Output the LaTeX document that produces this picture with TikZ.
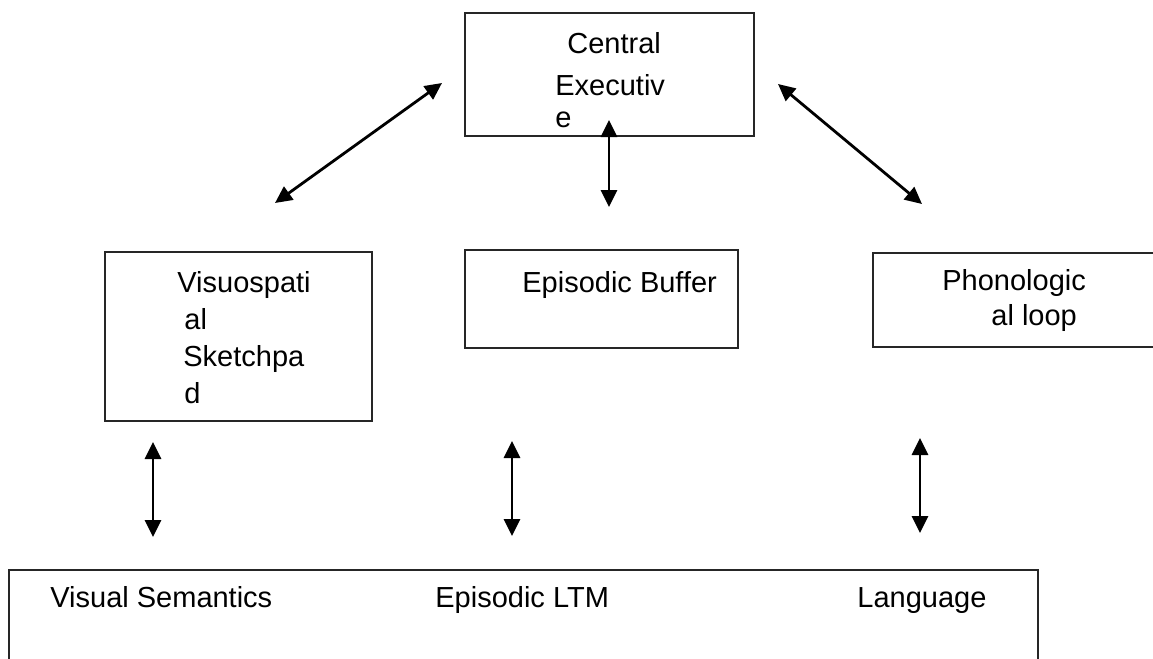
\documentclass[tikz,border=0pt]{standalone}
\usepackage{fontspec}
\setmainfont{Liberation Sans}
\usetikzlibrary{fit,arrows.meta}

\begin{document}
\begin{tikzpicture}[
  x=0.5pt, y=-0.5pt,
  box/.style={draw=black!85, line width=1pt, inner sep=0pt},
  txt/.style={anchor=base west, align=left, inner sep=0pt, font=\fontsize{14.5}{18.5}\selectfont},
  link/.style={{Triangle[length=8.5pt,width=8pt]}-{Triangle[length=8.5pt,width=8pt]}, line width=1.4pt},
]
\useasboundingbox (0,0) rectangle (1153,659);

% component boxes
\node[box, fit={(465,13) (754,136)}] (ce) {};
\node[box, fit={(105,252) (372,421)}] (vs) {};
\node[box, fit={(465,250) (738,348)}] (eb) {};
\node[box, fit={(873,253) (1170,347)}] (pl) {};
\node[box, fit={(9,570) (1038,690)}] (ltm) {};

% box texts (base = last line)
\node[txt, font=\fontsize{14.5}{21}\selectfont] (ce-txt) at (555,127) {\hspace{6pt}Central\\Executiv\\[-5pt]e};
\node[txt] (vs-txt) at (177,403) {Visuospati\\\hspace{3.5pt}al\\\hspace{3pt}Sketchpa\\\hspace{3.5pt}d};
\node[txt] (eb-txt) at (522,292) {Episodic Buffer};
\node[txt, font=\fontsize{14.5}{17.5}\selectfont] (pl-txt) at (942,325) {Phonologic\\\hspace{24.5pt}al loop};
\node[txt] (ltm-vis) at (50,607) {Visual Semantics};
\node[txt] (ltm-epi) at (435,607) {Episodic LTM};
\node[txt] (ltm-lang) at (857,607) {Language};

% arrow ends
\coordinate (ce-l) at (442,83);
\coordinate (vs-t) at (275,203);
\coordinate (ce-b) at (609,120);
\coordinate (eb-t) at (609,207);
\coordinate (ce-r) at (778,84);
\coordinate (pl-t) at (922,204);
\coordinate (vs-b) at (153,442);
\coordinate (ltm-l) at (153,537);
\coordinate (eb-b) at (512,441);
\coordinate (ltm-m) at (512,536);
\coordinate (pl-b) at (920,438);
\coordinate (ltm-r) at (920,533);

\draw[link] (vs-t) -- (ce-l);
\draw[link] (ce-b) -- (eb-t);
\draw[link] (ce-r) -- (pl-t);
\draw[link] (vs-b) -- (ltm-l);
\draw[link] (eb-b) -- (ltm-m);
\draw[link] (pl-b) -- (ltm-r);
\end{tikzpicture}
\end{document}
